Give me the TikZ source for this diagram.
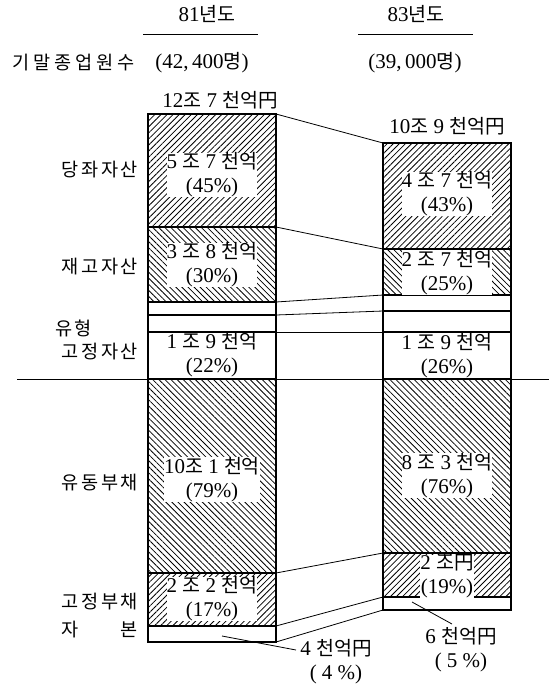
\documentclass[tikz,border=0pt]{standalone}
\usepackage{fontspec}
\setmainfont{Liberation Serif}
\newfontfamily\krf{Noto Sans CJK KR}[Scale=0.93]
\newcommand\kr[1]{{\krf #1}}
\newcommand\gp{\hspace{2.5pt}}
\newcommand\gq{\hspace{4pt}}
\usetikzlibrary{patterns.meta}
\begin{document}
\begin{tikzpicture}[x=1pt,y=-1pt,
  seg/.style={draw, line width=1.3pt, outer sep=0pt, inner sep=0pt, minimum width=128pt, anchor=north west},
  ne/.style={pattern={Lines[angle=45,distance=4.3pt,line width=0.8pt]}},
  nw/.style={pattern={Lines[angle=-45,distance=4.3pt,line width=0.8pt]}},
  conn/.style={line width=0.8pt},
  txt/.style={font=\fontsize{21}{24}\selectfont, inner sep=0.5pt, align=center},
  val/.style={txt, fill=white, inner sep=0pt},
  lab/.style={font=\fontsize{20}{22}\selectfont\krf, inner sep=0pt, anchor=east}]
\useasboundingbox (0,0) rectangle (557,689);

% header
\node[txt] (t81) at (207,14) {81\kr{년도}};
\node[txt] (t83) at (416,14) {83\kr{년도}};
\coordinate (h81a) at (143,34); \coordinate (h81b) at (258,34);
\coordinate (h83a) at (358,34); \coordinate (h83b) at (473,34);
\draw[conn] (h81a) -- (h81b);
\draw[conn] (h83a) -- (h83b);
\node[lab] (emp) at (135,63) {기\gq 말\gq 종\gq 업\gq 원\gq 수};
\node[txt] (n81) at (202,63) {(42,\,400\kr{명})};
\node[txt] (n83) at (415,63) {(39,\,000\kr{명})};
\node[txt] (tot81) at (220,100) {12\kr{조} 7 \kr{천억円}};
\node[txt] (tot83) at (447,126) {10\kr{조} 9 \kr{천억円}};

% left bar
\node[seg, ne, minimum height=113pt] (L1) at (148,114) {};
\node[seg, nw, minimum height=75pt] (L2) at (148,227) {};
\node[seg, minimum height=13pt] (L3) at (148,302) {};
\node[seg, minimum height=17pt] (L4) at (148,315) {};
\node[seg, minimum height=47pt] (L5) at (148,332) {};
\node[seg, nw, minimum height=194pt] (L6) at (148,379) {};
\node[seg, ne, minimum height=53pt] (L7) at (148,573) {};
\node[seg, minimum height=16pt] (L8) at (148,626) {};

% right bar
\node[seg, ne, minimum height=106pt] (R1) at (383,143) {};
\node[seg, nw, minimum height=46pt] (R2) at (383,249) {};
\node[seg, minimum height=16pt] (R3) at (383,295) {};
\node[seg, minimum height=21pt] (R4) at (383,311) {};
\node[seg, minimum height=47pt] (R5) at (383,332) {};
\node[seg, nw, minimum height=174pt] (R6) at (383,379) {};
\node[seg, ne, minimum height=44pt] (R7) at (383,553) {};
\node[seg, minimum height=13pt] (R8) at (383,597) {};

% connectors
\draw[conn] (L1.north east) -- (R1.north west);
\draw[conn] (L1.south east) -- (R1.south west);
\draw[conn] (L2.south east) -- (R2.south west);
\draw[conn] (L3.south east) -- (R3.south west);
\draw[conn] (L4.south east) -- (R4.south west);
\draw[conn] (L6.south east) -- (R6.south west);
\draw[conn] (L7.south east) -- (R7.south west);
\draw[conn] (L8.south east) -- (R8.south west);
\coordinate (hl) at (17,379); \coordinate (hr) at (549,379);
\draw[conn] (hl) -- (hr);

% left labels
\node[lab] (k1) at (138,170) {당\gp 좌\gp 자\gp 산};
\node[lab] (k2) at (138,267) {재\gp 고\gp 자\gp 산};
\node[lab, anchor=west] (k3) at (55,328) {유\gp 형};
\node[lab] (k4) at (138,352) {고\gp 정\gp 자\gp 산};
\node[lab] (k5) at (138,483) {유\gp 동\gp 부\gp 채};
\node[lab] (k6) at (138,602) {고\gp 정\gp 부\gp 채};
\node[lab] (k7) at (138,630) {자\hspace{42pt}본};

% values
\node[val] (v1) at (212,175) {5 \kr{조} 7 \kr{천억}\\(45\%)};
\node[val] (v2) at (212,265) {3 \kr{조} 8 \kr{천억}\\(30\%)};
\node[txt] (v5) at (212,355) {1 \kr{조} 9 \kr{천억}\\(22\%)};
\node[val] (v6) at (212,479.5) {10\kr{조} 1 \kr{천억}\\(79\%)};
\node[val] (v7) at (212,599) {2 \kr{조} 2 \kr{천억}\\(17\%)};
\node[val] (w1) at (447,194) {4 \kr{조} 7 \kr{천억}\\(43\%)};
\node[val] (w2) at (447,272.5) {2 \kr{조} 7 \kr{천억}\\(25\%)};
\node[txt] (w5) at (447,356) {1 \kr{조} 9 \kr{천억}\\(26\%)};
\node[val] (w6) at (447,475.5) {8 \kr{조} 3 \kr{천억}\\(76\%)};
\node[val] (w7) at (447,576.5) {2 \kr{조円}\\(19\%)};

% small labels with leaders
\node[txt] (a4) at (336,662) {4 \kr{천억円}\\( 4 \%)};
\node[txt] (a6) at (461,650) {6 \kr{천억円}\\( 5 \%)};
\coordinate (s4) at (222,636);
\coordinate (e4) at (296,650);
\coordinate (s6) at (412,602);
\coordinate (e6) at (452,624);
\draw[conn] (s4) -- (e4);
\draw[conn] (s6) -- (e6);
\end{tikzpicture}
\end{document}
